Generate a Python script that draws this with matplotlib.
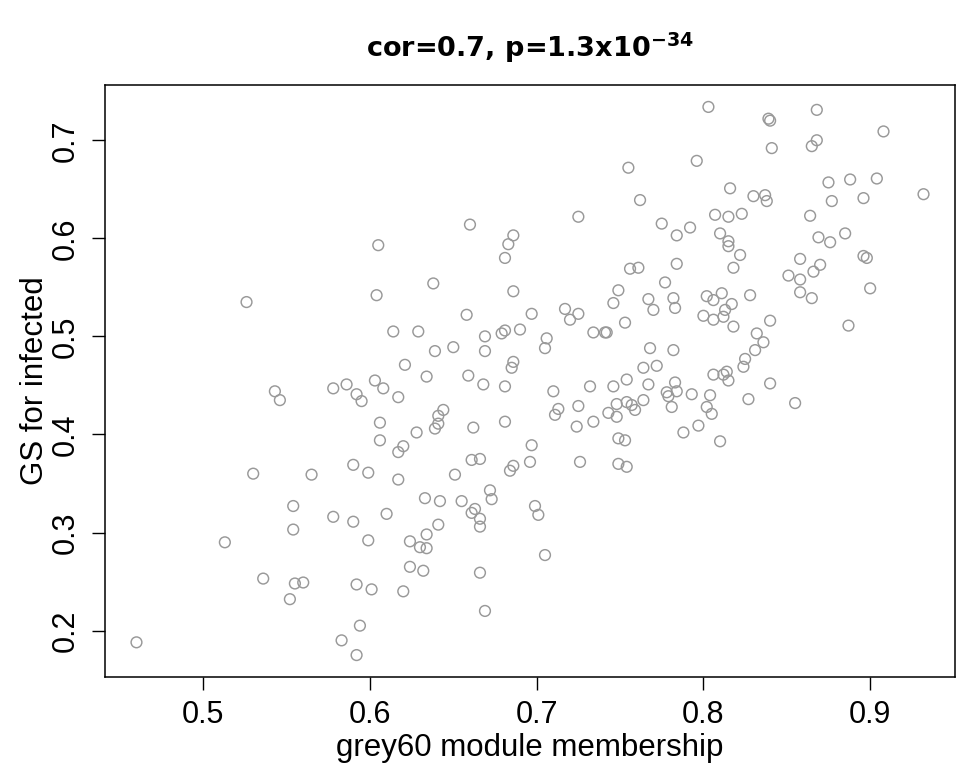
import matplotlib
matplotlib.use("Agg")
import matplotlib.pyplot as plt
import numpy as np

# module membership (x) and gene significance (y)
mm = [0.605, 0.755, 0.762, 0.725, 0.660, 0.686, 0.683, 0.681, 0.756, 0.761,
      0.638, 0.775, 0.777,
      0.803, 0.839, 0.840, 0.868, 0.908, 0.868, 0.865, 0.841, 0.796, 0.816,
      0.875, 0.888, 0.904, 0.932, 0.830, 0.837, 0.838, 0.877, 0.896, 0.807,
      0.815, 0.823, 0.864, 0.792, 0.784, 0.810, 0.815, 0.815, 0.822, 0.869,
      0.876, 0.885, 0.896, 0.898, 0.784, 0.818, 0.858, 0.870, 0.866, 0.851,
      0.858,
      0.526, 0.604, 0.543, 0.546, 0.578, 0.586, 0.592, 0.595, 0.603, 0.608,
      0.606, 0.606, 0.530, 0.565, 0.590, 0.599,
      0.686, 0.749, 0.746, 0.767, 0.770, 0.658, 0.697, 0.717, 0.725, 0.720,
      0.753, 0.614, 0.629, 0.669, 0.679, 0.681, 0.690, 0.706, 0.705, 0.734,
      0.741, 0.742, 0.639, 0.650, 0.669, 0.768, 0.621, 0.634, 0.659, 0.668,
      0.681, 0.686, 0.685, 0.710, 0.732, 0.746, 0.754, 0.764, 0.772, 0.767,
      0.617, 0.641, 0.644, 0.641, 0.639, 0.628, 0.662, 0.681, 0.713, 0.711,
      0.725, 0.724, 0.734, 0.743, 0.748, 0.748, 0.754, 0.757, 0.759, 0.764,
      0.620, 0.617, 0.697, 0.661, 0.666, 0.686, 0.684, 0.696, 0.726, 0.749,
      0.753, 0.749, 0.754, 0.651, 0.617,
      0.782, 0.783, 0.802, 0.806, 0.811, 0.828, 0.858, 0.865, 0.900, 0.817,
      0.813, 0.800, 0.806, 0.812, 0.818, 0.840, 0.887, 0.832, 0.836, 0.831,
      0.825, 0.824, 0.782, 0.806, 0.812, 0.814, 0.815, 0.840, 0.783, 0.784,
      0.778, 0.779, 0.793, 0.804, 0.781, 0.802, 0.805, 0.827, 0.855, 0.788,
      0.797, 0.810,
      0.554, 0.554, 0.578, 0.590, 0.599, 0.610, 0.513, 0.536, 0.555, 0.560,
      0.552, 0.592, 0.601, 0.594, 0.583, 0.592, 0.460,
      0.672, 0.673, 0.633, 0.642, 0.655, 0.663, 0.661, 0.666, 0.666, 0.699,
      0.701, 0.641, 0.634, 0.624, 0.630, 0.634, 0.705, 0.624, 0.632, 0.666,
      0.620, 0.669]

gs = [0.593, 0.672, 0.639, 0.622, 0.614, 0.603, 0.594, 0.580, 0.569, 0.570,
      0.554, 0.615, 0.555,
      0.734, 0.722, 0.720, 0.731, 0.709, 0.700, 0.694, 0.692, 0.679, 0.651,
      0.657, 0.660, 0.661, 0.645, 0.643, 0.644, 0.638, 0.638, 0.641, 0.624,
      0.622, 0.625, 0.623, 0.611, 0.603, 0.605, 0.597, 0.592, 0.583, 0.601,
      0.596, 0.605, 0.582, 0.580, 0.574, 0.570, 0.579, 0.573, 0.566, 0.562,
      0.558,
      0.535, 0.542, 0.444, 0.435, 0.447, 0.451, 0.441, 0.434, 0.455, 0.447,
      0.412, 0.394, 0.360, 0.359, 0.369, 0.361,
      0.546, 0.547, 0.534, 0.538, 0.527, 0.522, 0.523, 0.528, 0.523, 0.517,
      0.514, 0.505, 0.505, 0.500, 0.503, 0.506, 0.507, 0.498, 0.488, 0.504,
      0.504, 0.504, 0.485, 0.489, 0.485, 0.488, 0.471, 0.459, 0.460, 0.451,
      0.449, 0.474, 0.468, 0.444, 0.449, 0.449, 0.456, 0.468, 0.470, 0.451,
      0.438, 0.419, 0.425, 0.411, 0.406, 0.402, 0.407, 0.413, 0.426, 0.420,
      0.429, 0.408, 0.413, 0.422, 0.418, 0.431, 0.433, 0.430, 0.425, 0.435,
      0.388, 0.382, 0.389, 0.374, 0.375, 0.368, 0.363, 0.372, 0.372, 0.396,
      0.394, 0.370, 0.367, 0.359, 0.354,
      0.539, 0.529, 0.541, 0.537, 0.544, 0.542, 0.545, 0.539, 0.549, 0.533,
      0.527, 0.521, 0.517, 0.520, 0.510, 0.516, 0.511, 0.503, 0.494, 0.486,
      0.477, 0.469, 0.486, 0.461, 0.461, 0.464, 0.455, 0.452, 0.453, 0.444,
      0.443, 0.439, 0.441, 0.440, 0.428, 0.428, 0.421, 0.436, 0.432, 0.402,
      0.409, 0.393,
      0.327, 0.303, 0.316, 0.311, 0.292, 0.319, 0.290, 0.253, 0.248, 0.249,
      0.232, 0.247, 0.242, 0.205, 0.190, 0.175, 0.188,
      0.343, 0.334, 0.335, 0.332, 0.332, 0.324, 0.320, 0.314, 0.306, 0.327,
      0.318, 0.308, 0.298, 0.291, 0.285, 0.284, 0.277, 0.265, 0.261, 0.259,
      0.240, 0.220]

mm = np.array(mm)
gs = np.array(gs)

plt.rcParams['font.family'] = ['Liberation Sans', 'DejaVu Sans']

fig = plt.figure(figsize=(9.6, 7.64), dpi=100)
ax = fig.add_axes([105 / 960, 1 - 677 / 764, 850 / 960, 592 / 764])

ax.scatter(mm, gs, s=60, facecolors='none', edgecolors='#999999', linewidths=1.05)

# R style 4% padding around the data range
xr = mm.max() - mm.min()
yr = gs.max() - gs.min()
ax.set_xlim(mm.min() - 0.04 * xr, mm.max() + 0.04 * xr)
ax.set_ylim(gs.min() - 0.04 * yr, gs.max() + 0.04 * yr)

ax.set_xticks([0.5, 0.6, 0.7, 0.8, 0.9])
ax.set_yticks([0.2, 0.3, 0.4, 0.5, 0.6, 0.7])
ax.set_xticklabels(['0.5', '0.6', '0.7', '0.8', '0.9'])
ax.set_yticklabels(['0.2', '0.3', '0.4', '0.5', '0.6', '0.7'], rotation=90, va='center')
ax.tick_params(axis='both', direction='out', length=9.5, width=1.0, colors='black',
               labelsize=22)
ax.tick_params(axis='x', pad=7)
ax.tick_params(axis='y', pad=8)

for sp in ax.spines.values():
    sp.set_linewidth(1.1)
    sp.set_color('black')

ax.set_xlabel('grey60 module membership', fontsize=22.5)
ax.set_ylabel('GS for infected', fontsize=22.5)
ax.xaxis.set_label_coords(0.5, (677 - 748) / 592)
ax.yaxis.set_label_coords((35 - 105) / 850, 0.5)
ax.xaxis.label.set_va('center')
ax.yaxis.label.set_va('center')

fig.text(0.552, 1 - 57 / 764, r'cor=0.7, p=1.3x10$^{\mathbf{-34}}$',
         ha='center', va='baseline', fontsize=19.5, fontweight='bold', family='DejaVu Sans',
         math_fontfamily='dejavusans')

fig.savefig('out.png', dpi=100)
